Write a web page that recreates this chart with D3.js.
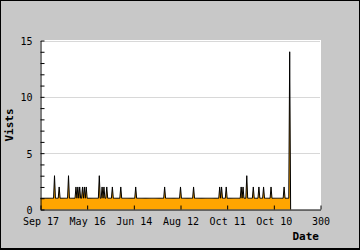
<!DOCTYPE html>
<html><head><meta charset="utf-8">
<script src="https://cdn.jsdelivr.net/npm/d3@7"></script>
<style>body{margin:0;background:#c8c8c8} svg{display:block}</style>
</head><body><svg id="c" width="360" height="250"></svg>
<script>
// daily visits, index 0..268
const visits = [
1,1,1,1,1, 1,1,1,1,1, 1,1,1,1,1, 3,1,1,1,1,
2,1,1,1,1, 1,1,1,1,1, 3,1,1,1,1, 1,1,1,2,1,
2,1,2,1,1, 2,1,2,1,2, 1,1,1,1,1, 1,1,1,1,1,
1,1,1,3,1, 1,2,1,2,1, 1,2,1,1,1, 1,1,2,1,1,
1,1,1,1,1, 1,2,1,1,1, 1,1,1,1,1, 1,1,1,1,1,
1,1,2,1,1, 1,1,1,1,1, 1,1,1,1,1, 1,1,1,1,1,
1,1,1,1,1, 1,1,1,1,1, 1,1,1,2,1, 1,1,1,1,1,
1,1,1,1,1, 1,1,1,1,1, 2,1,1,1,1, 1,1,1,1,1,
1,1,1,1,2, 1,1,1,1,1, 1,1,1,1,1, 1,1,1,1,1,
1,1,1,1,1, 1,1,1,1,1, 1,1,2,1,2, 1,1,1,1,2,
1,1,1,1,1, 1,1,1,1,1, 1,1,1,1,1, 2,1,2,1,1,
1,3,1,1,1, 1,1,1,2,1, 1,1,1,1,2, 1,1,1,1,2,
1,1,1,1,1, 1,1,2,1,1, 1,1,1,1,1, 1,1,1,1,1,
1,2,1,1,1, 1,1,14,0
];
const xTickValues = [0, 50, 100, 150, 200, 250, 300];
const xTickLabels = ["Sep 17", "May 16", "Jun 14", "Aug 12", "Oct 11", "Oct 10", "300"];
const yLabelValues = [0, 5, 10, 15];
const yGridValues = [5, 10, 15];
const xTitle = "Date";
const yTitle = "Vists";

const svg = d3.select("#c");
const font = "'DejaVu Sans Mono', monospace";

svg.append("rect").attr("x",0).attr("y",0).attr("width",360).attr("height",250).attr("fill","#c8c8c8");

const x = d3.scaleLinear().domain([0, 300]).range([40.5, 320.5]);
const y = d3.scaleLinear().domain([0, 15]).range([209.5, 40.5]);

svg.append("rect").attr("x",40).attr("y",40).attr("width",281).attr("height",170).attr("fill","#fff");

svg.append("g").selectAll("line").data(yGridValues).join("line")
  .attr("x1",41).attr("x2",320).attr("y1",d=>Math.round(y(d))+0.5).attr("y2",d=>Math.round(y(d))+0.5)
  .attr("stroke","#d8d8d8").attr("stroke-width",1);

const area = d3.area().x((d,i)=>x(i)).y0(y(0)).y1(d=>y(d));
const line = d3.line().x((d,i)=>x(i)).y(d=>y(d));
svg.append("path").datum(visits).attr("d",area).attr("fill","#ffa500");
svg.append("path").datum(visits).attr("d",line).attr("fill","none").attr("stroke","#000").attr("stroke-width",1);

const yAxis = d3.axisLeft(y).tickValues(d3.range(0,16)).tickSizeInner(-4).tickSizeOuter(0).tickPadding(8)
  .tickFormat(d => yLabelValues.includes(d) ? String(d) : "");
const gy = svg.append("g").attr("transform","translate(40.5,0)").call(yAxis);
const xAxis = d3.axisBottom(x).tickValues(xTickValues).tickSizeInner(-4).tickSizeOuter(0).tickPadding(8)
  .tickFormat((d,i) => xTickLabels[i]);
const gx = svg.append("g").attr("transform","translate(0,209.5)").call(xAxis);

[gx, gy].forEach(g => {
  g.selectAll("path.domain").attr("stroke","#000");
  g.selectAll(".tick line").attr("stroke","#000");
  g.selectAll("text").attr("fill","#000").style("font-family",font).style("font-size","10px");
});
gy.selectAll("text").attr("dy","0.4em");

svg.append("text").attr("x",319).attr("y",239.5).attr("text-anchor","end")
  .style("font-family",font).style("font-size","11px").style("font-weight","bold").text(xTitle);
svg.append("text").attr("transform","translate(13,125) rotate(-90)").attr("text-anchor","middle")
  .style("font-family",font).style("font-size","11px").style("font-weight","bold").text(yTitle);

// frame
svg.append("rect").attr("x",0).attr("y",0).attr("width",360).attr("height",1).attr("fill","#000");
svg.append("rect").attr("x",0).attr("y",0).attr("width",1).attr("height",250).attr("fill","#000");
svg.append("rect").attr("x",359).attr("y",0).attr("width",1).attr("height",250).attr("fill","#000");
svg.append("rect").attr("x",0).attr("y",248).attr("width",360).attr("height",2).attr("fill","#000");
</script>
</body></html>
